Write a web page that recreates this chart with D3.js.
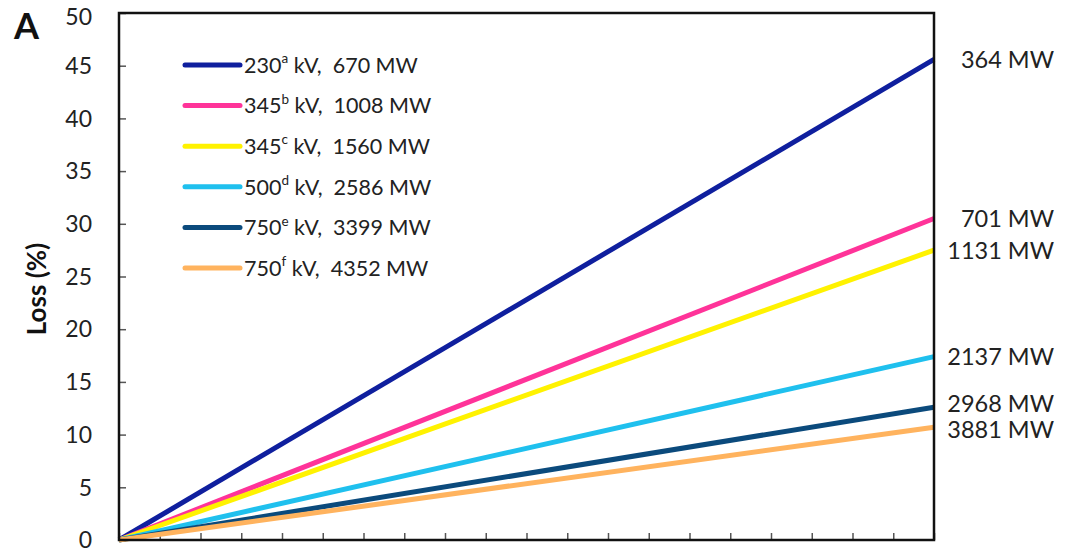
<!DOCTYPE html>
<html>
<head>
<meta charset="utf-8">
<script src="https://cdn.jsdelivr.net/npm/d3@7"></script>
<style>
  html, body { margin: 0; padding: 0; background: #fff; }
  svg { display: block; font-family: Lato, "Open Sans", sans-serif; }
</style>
</head>
<body>
<svg id="chart" width="1076" height="553"></svg>
<script>
// Line voltage, footnote letter and rated transfer for each case
const voltages   = ["230", "345", "345", "500", "750", "750"];
const footnotes  = ["a", "b", "c", "d", "e", "f"];
const ratedMW    = [670, 1008, 1560, 2586, 3399, 4352];
// Transfer and loss at the far end of the distance axis
const endMW      = [364, 701, 1131, 2137, 2968, 3881];
const endLoss    = [45.6, 30.5, 27.5, 17.4, 12.6, 10.7];
const colors     = ["#0f1f9e", "#ff3399", "#fff200", "#1fc0ee", "#0b4a7c", "#ffb35e"];
const xDomain    = [0, 20];
const yTicks     = [0, 5, 10, 15, 20, 25, 30, 35, 40, 45, 50];

const svg = d3.select("#chart");
const m = { left: 119, right: 934, top: 13, bottom: 540 };

const x = d3.scaleLinear().domain(xDomain).range([m.left, m.right]);
const y = d3.scaleLinear().domain([0, 50]).range([m.bottom, m.top]);

// Y axis: labels outside, ticks pointing into the plot
const yAxis = svg.append("g").attr("transform", `translate(${m.left},0)`)
  .call(d3.axisRight(y).tickValues(yTicks).tickSize(7).tickFormat(""));
yAxis.select(".domain").remove();
yAxis.selectAll(".tick line").attr("stroke", "#555").attr("stroke-width", 1.5);

// Tick labels; the topmost one is kept inside the canvas
svg.append("g").selectAll("text").data(yTicks).join("text")
  .attr("x", m.left - 27).attr("y", d => Math.max(y(d), 17)).attr("dy", "0.36em")
  .attr("text-anchor", "end").attr("font-size", 23).attr("fill", "#222")
  .text(d => d);

// X axis ticks (unlabelled), pointing up into the plot
const xAxis = svg.append("g").attr("transform", `translate(0,${m.bottom})`)
  .call(d3.axisTop(x).ticks(20).tickSize(7).tickFormat(""));
xAxis.select(".domain").remove();
xAxis.selectAll(".tick line").attr("stroke", "#555").attr("stroke-width", 1.5);

// Loss lines
const line = d3.line().x(d => x(d[0])).y(d => y(d[1]));
svg.append("g").selectAll("path").data(endLoss).join("path")
  .attr("d", d => line([[xDomain[0], 0], [xDomain[1], d]]))
  .attr("fill", "none")
  .attr("stroke", (d, i) => colors[i])
  .attr("stroke-width", 5);

// Plot frame
svg.append("rect")
  .attr("x", m.left).attr("y", m.top)
  .attr("width", m.right - m.left).attr("height", m.bottom - m.top)
  .attr("fill", "none").attr("stroke", "#111").attr("stroke-width", 2.5);

// End-of-line transfer labels
const nudge = [0, 0, 0, 0, -4, 2];
svg.append("g").selectAll("text").data(endMW).join("text")
  .attr("x", 1054).attr("y", (d, i) => y(endLoss[i]) + nudge[i]).attr("dy", "0.36em")
  .attr("text-anchor", "end").attr("font-size", 23.5).attr("fill", "#222")
  .text(d => `${d} MW`);

// Legend
const lg = svg.append("g");
voltages.forEach((v, i) => {
  const ly = 65 + i * 40.6;
  lg.append("line").attr("x1", 185).attr("x2", 240).attr("y1", ly).attr("y2", ly)
    .attr("stroke", colors[i]).attr("stroke-width", 5).attr("stroke-linecap", "round");
  const t = lg.append("text").attr("x", 244).attr("y", ly).attr("dy", "0.36em")
    .attr("font-size", 21.5).attr("fill", "#222").style("white-space", "pre");
  t.append("tspan").text(v);
  t.append("tspan").attr("font-size", 13.5).attr("dy", "-0.7em").text(footnotes[i]);
  t.append("tspan").attr("dy", "0.44em").text(` kV,  ${ratedMW[i]} MW`);
});

// Axis title and panel letter
svg.append("text")
  .attr("transform", "translate(46,289) rotate(-90)")
  .attr("text-anchor", "middle").attr("font-size", 26).attr("font-weight", "bold")
  .attr("fill", "#111").text("Loss (%)");

svg.append("text").attr("x", 14).attr("y", 39)
  .attr("font-size", 36).attr("font-weight", "bold").attr("fill", "#111").text("A");
</script>
</body>
</html>
